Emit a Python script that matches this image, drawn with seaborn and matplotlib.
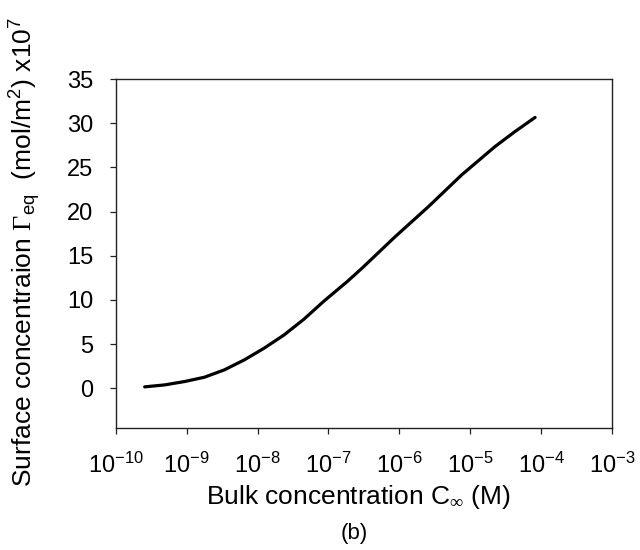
import numpy as np
import pandas as pd
import matplotlib
matplotlib.use("Agg")
import matplotlib.pyplot as plt
import seaborn as sns
from matplotlib.ticker import FixedLocator, FuncFormatter, NullLocator

# Adsorption isotherm: equilibrium surface concentration vs bulk concentration
log_bulk_conc = [-9.593, -9.312, -9.031, -8.750, -8.469, -8.188, -7.907, -7.626,
                 -7.346, -7.065, -6.737, -6.527, -6.058, -5.590, -5.122,
                 -4.653, -4.372, -4.083]
surface_conc = [0.15, 0.37, 0.75, 1.24, 2.07, 3.20, 4.53, 6.03,
                7.81, 9.85, 12.06, 13.58, 17.16, 20.55, 24.14,
                27.34, 29.04, 30.67]
x_decades = [-10, -9, -8, -7, -6, -5, -4, -3]
y_ticks = [0, 5, 10, 15, 20, 25, 30, 35]

df = pd.DataFrame({"C": np.power(10.0, log_bulk_conc), "Gamma": surface_conc})

sns.set_theme(style="white")
plt.rcParams.update({
    "font.family": ["Liberation Sans", "DejaVu Sans"],
    "mathtext.fontset": "custom",
    "mathtext.rm": "Liberation Serif",
    "mathtext.sf": "Liberation Sans",
    "mathtext.it": "Liberation Sans:italic",
})

fig = plt.figure(figsize=(6.4, 5.5), dpi=100)
ax = fig.add_axes([0.181, 0.222, 0.775, 0.634])

sns.lineplot(data=df, x="C", y="Gamma", ax=ax, color="black", linewidth=2.3,
             estimator=None, sort=False)

ax.set_xscale("log")
ax.set_xlim(10.0 ** x_decades[0], 10.0 ** x_decades[-1])
ax.set_ylim(-4.5, 35)

ax.xaxis.set_major_locator(FixedLocator([10.0 ** d for d in x_decades]))
ax.xaxis.set_minor_locator(NullLocator())
ax.xaxis.set_major_formatter(
    FuncFormatter(lambda v, pos: "10$^{\\mathsf{%d}}$" % int(round(np.log10(v)))))
ax.yaxis.set_major_locator(FixedLocator(y_ticks))

for side in ["left", "right", "top", "bottom"]:
    ax.spines[side].set_visible(True)
    ax.spines[side].set_color("#222222")
    ax.spines[side].set_linewidth(1.0)

ax.tick_params(axis="both", which="major", direction="out", length=4, width=0.9,
               color="#222222", labelsize=17, labelcolor="black",
               bottom=True, left=True)
ax.tick_params(axis="y", pad=12)
ax.tick_params(axis="x", pad=14)

ax.set_xlabel("Bulk concentration C$_{\\infty}$ (M)", fontsize=19, color="black")
ax.xaxis.set_label_coords(0.49, -0.158)
ax.set_ylabel("Surface concentraion $\\Gamma_{\\mathsf{eq}}$  (mol/m$^{\\mathsf{2}}$) x10$^{\\mathsf{7}}$",
              fontsize=19, color="black")
ax.yaxis.set_label_coords(-0.147, 0.505)

fig.text(0.553, 0.03, "(b)", ha="center", va="center", fontsize=16, color="black")

fig.savefig("out.png", dpi=100, facecolor="white")
